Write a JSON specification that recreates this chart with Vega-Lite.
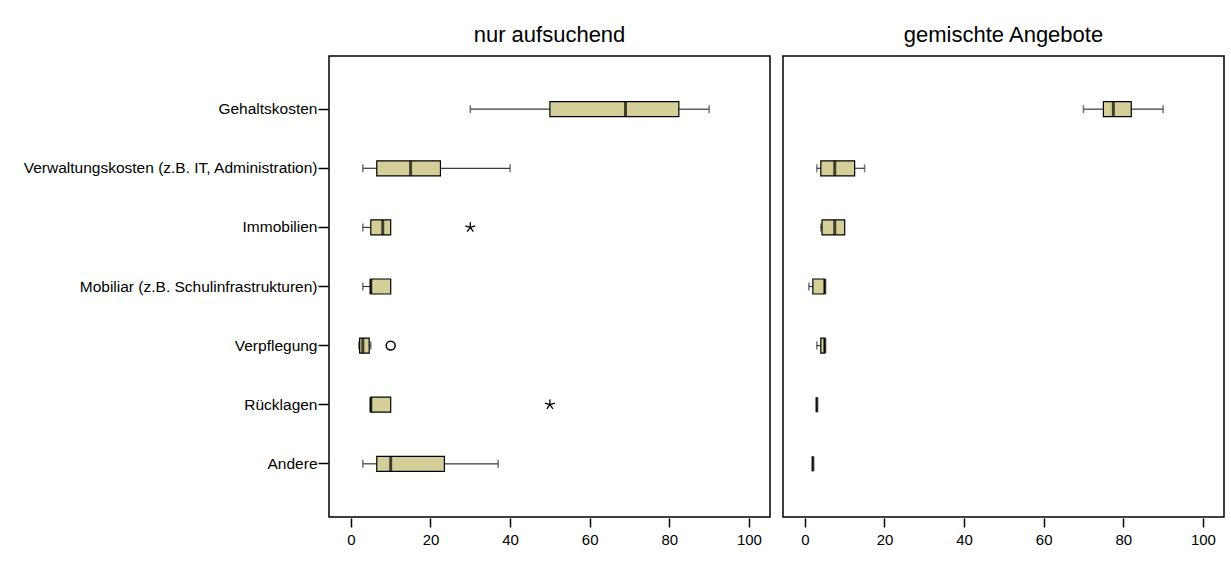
{
  "$schema": "https://vega.github.io/schema/vega-lite/v6.json",
  "background": "white",
  "padding": {"left": 22, "top": 24, "right": 5, "bottom": 5},
  "data": {"values": [
    {"panel": "nur aufsuchend", "kind": "box", "cat": "Gehaltskosten", "wlo": 30, "q1": 50, "med": 69, "q3": 82.4, "whi": 90},
    {"panel": "nur aufsuchend", "kind": "box", "cat": "Verwaltungskosten (z.B. IT, Administration)", "wlo": 3, "q1": 6.5, "med": 15, "q3": 22.5, "whi": 40},
    {"panel": "nur aufsuchend", "kind": "box", "cat": "Immobilien", "wlo": 3, "q1": 5, "med": 8, "q3": 10, "whi": null},
    {"panel": "nur aufsuchend", "kind": "box", "cat": "Mobiliar (z.B. Schulinfrastrukturen)", "wlo": 3, "q1": 5, "med": 5, "q3": 10, "whi": null},
    {"panel": "nur aufsuchend", "kind": "box", "cat": "Verpflegung", "wlo": 2, "q1": 2.2, "med": 3, "q3": 4.6, "whi": 5},
    {"panel": "nur aufsuchend", "kind": "box", "cat": "Rücklagen", "wlo": null, "q1": 5, "med": 5, "q3": 10, "whi": null},
    {"panel": "nur aufsuchend", "kind": "box", "cat": "Andere", "wlo": 3, "q1": 6.5, "med": 10, "q3": 23.5, "whi": 37},
    {"panel": "nur aufsuchend", "kind": "extreme", "cat": "Immobilien", "value": 30},
    {"panel": "nur aufsuchend", "kind": "outlier", "cat": "Verpflegung", "value": 10},
    {"panel": "nur aufsuchend", "kind": "extreme", "cat": "Rücklagen", "value": 50},
    {"panel": "gemischte Angebote", "kind": "box", "cat": "Gehaltskosten", "wlo": 70, "q1": 75, "med": 77.5, "q3": 82, "whi": 90},
    {"panel": "gemischte Angebote", "kind": "box", "cat": "Verwaltungskosten (z.B. IT, Administration)", "wlo": 3, "q1": 4, "med": 7.5, "q3": 12.5, "whi": 15},
    {"panel": "gemischte Angebote", "kind": "box", "cat": "Immobilien", "wlo": 4, "q1": 4.3, "med": 7.5, "q3": 10, "whi": null},
    {"panel": "gemischte Angebote", "kind": "box", "cat": "Mobiliar (z.B. Schulinfrastrukturen)", "wlo": 1, "q1": 2, "med": 5, "q3": 5, "whi": null},
    {"panel": "gemischte Angebote", "kind": "box", "cat": "Verpflegung", "wlo": 3, "q1": 4, "med": 5, "q3": 5, "whi": null},
    {"panel": "gemischte Angebote", "kind": "box", "cat": "Rücklagen", "wlo": null, "q1": 3, "med": 3, "q3": 3, "whi": null},
    {"panel": "gemischte Angebote", "kind": "box", "cat": "Andere", "wlo": null, "q1": 2, "med": 2, "q3": 2, "whi": null}
  ]},
  "facet": {
    "column": {
      "field": "panel", "type": "nominal", "title": null,
      "sort": ["nur aufsuchend", "gemischte Angebote"],
      "header": {"labelFontSize": 22, "labelFont": "Liberation Sans", "labelColor": "black", "labelPadding": 8}
    }
  },
  "spacing": 11,
  "spec": {
    "width": 441,
    "height": 461,
    "encoding": {
      "y": {
        "field": "cat", "type": "nominal", "title": null,
        "sort": ["Gehaltskosten", "Verwaltungskosten (z.B. IT, Administration)", "Immobilien", "Mobiliar (z.B. Schulinfrastrukturen)", "Verpflegung", "Rücklagen", "Andere"],
        "scale": {"paddingInner": 0, "paddingOuter": 0.4},
        "axis": {"domain": false, "ticks": true, "tickSize": 10, "tickColor": "black", "tickWidth": 1.5, "labelPadding": 1, "labelFontSize": 15.5, "labelFont": "Liberation Sans", "labelColor": "black", "labelLimit": 500, "grid": false}
      }
    },
    "layer": [
      {
        "transform": [{"filter": "datum.kind == 'box' && datum.wlo != null"}],
        "mark": {"type": "rule", "color": "#3a3a3a", "strokeWidth": 1.2},
        "encoding": {
          "x": {"field": "wlo", "type": "quantitative", "title": null, "scale": {"domain": [-5.5, 105.3], "nice": false, "zero": false},
            "axis": {"values": [0, 20, 40, 60, 80, 100], "domain": false, "grid": false, "tickSize": 9, "tickColor": "black", "tickWidth": 1.5, "labelPadding": 5, "labelFontSize": 15, "labelFont": "Liberation Sans", "labelColor": "black"}},
          "x2": {"field": "q1"}
        }
      },
      {
        "transform": [{"filter": "datum.kind == 'box' && datum.whi != null"}],
        "mark": {"type": "rule", "color": "#3a3a3a", "strokeWidth": 1.2},
        "encoding": {
          "x": {"field": "q3", "type": "quantitative"},
          "x2": {"field": "whi"}
        }
      },
      {
        "transform": [{"filter": "datum.kind == 'box' && datum.wlo != null"}],
        "mark": {"type": "tick", "color": "#3a3a3a", "size": 8, "thickness": 1.5},
        "encoding": {"x": {"field": "wlo", "type": "quantitative"}}
      },
      {
        "transform": [{"filter": "datum.kind == 'box' && datum.whi != null"}],
        "mark": {"type": "tick", "color": "#3a3a3a", "size": 8, "thickness": 1.5},
        "encoding": {"x": {"field": "whi", "type": "quantitative"}}
      },
      {
        "transform": [{"filter": "datum.kind == 'box'"}],
        "mark": {"type": "bar", "fill": "#d4cf99", "stroke": "black", "strokeWidth": 1.2, "size": 15},
        "encoding": {
          "x": {"field": "q1", "type": "quantitative"},
          "x2": {"field": "q3"}
        }
      },
      {
        "transform": [{"filter": "datum.kind == 'box'"}],
        "mark": {"type": "tick", "color": "black", "size": 15, "thickness": 3},
        "encoding": {"x": {"field": "med", "type": "quantitative"}}
      },
      {
        "transform": [{"filter": "datum.kind == 'outlier'"}],
        "mark": {"type": "point", "shape": "circle", "filled": false, "stroke": "black", "strokeWidth": 1.5, "size": 80, "opacity": 1},
        "encoding": {"x": {"field": "value", "type": "quantitative"}}
      },
      {
        "transform": [{"filter": "datum.kind == 'extreme'"}],
        "mark": {"type": "point", "shape": "M0,-1L0,0M0,0L0.95,-0.31M0,0L0.59,0.81M0,0L-0.59,0.81M0,0L-0.95,-0.31", "filled": false, "stroke": "black", "strokeWidth": 1.3, "size": 110, "opacity": 1},
        "encoding": {"x": {"field": "value", "type": "quantitative"}}
      }
    ]
  },
  "config": {
    "view": {"stroke": "black", "strokeWidth": 1.5},
    "font": "Liberation Sans"
  }
}
